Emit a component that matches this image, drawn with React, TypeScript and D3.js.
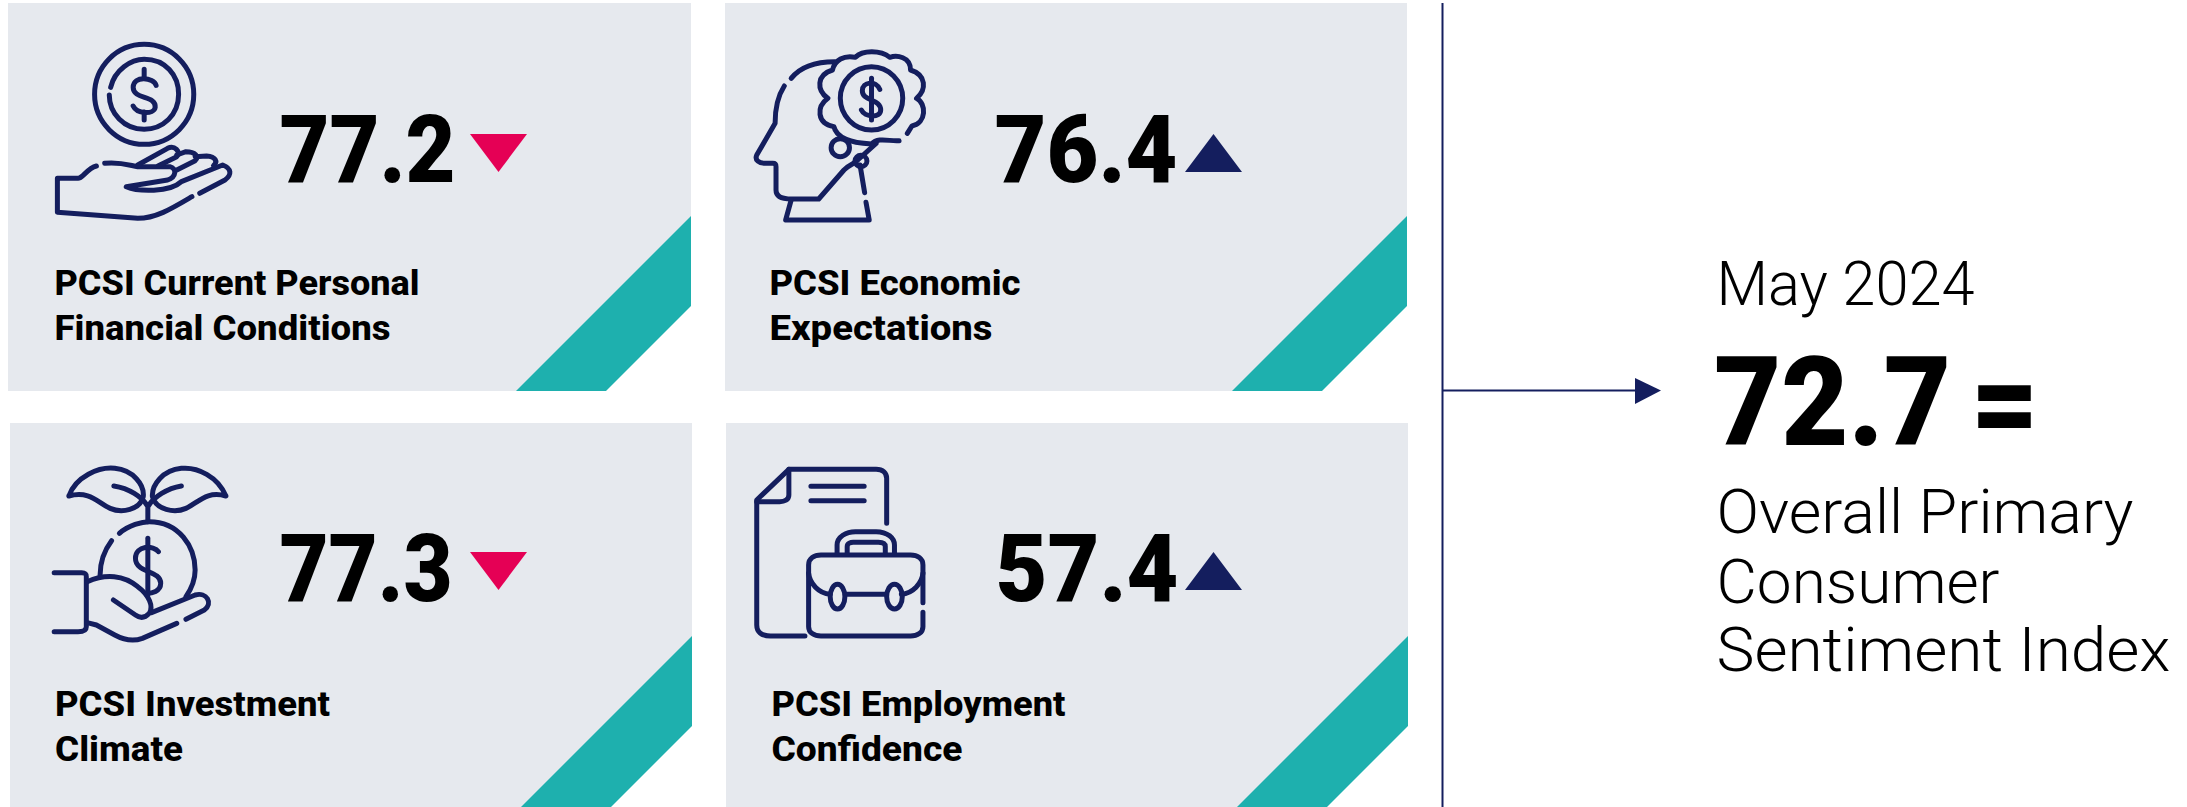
import { useRef, useEffect } from 'react';
import * as d3 from 'd3';

const WIDTH = 2187;
const HEIGHT = 807;
const NAVY = '#141e5e';
const TEAL = '#1eb0ae';
const PINK = '#e50055';
const CARD = '#e6e9ee';

// values
const cardValues = [77.2, 76.4, 77.3, 57.4];
const cardTrends = ['down', 'up', 'down', 'up'];
const cardLabels = [
  ['PCSI Current Personal', 'Financial Conditions'],
  ['PCSI Economic', 'Expectations'],
  ['PCSI Investment', 'Climate'],
  ['PCSI Employment', 'Confidence'],
];
const overallValue = 72.7;
const overallDate = 'May 2024';
const overallLabel = ['Overall Primary', 'Consumer', 'Sentiment Index'];

// card placement and fitted text widths
const cardLeft = [8, 725, 10, 726];
const cardRight = [691, 1407, 692, 1408];
const cardTop = [3, 3, 423, 423];
const cardBottom = [391, 391, 807, 807];
const valueLeft = [279.5, 994.5, 279.5, 995.5];
const valueWidth = [176, 183, 173, 183];
const triLeft = [470, 1185, 470, 1185];
const labelLeft = [54.5, 769.5, 55, 771.5];
const labelWidth = [[365, 336], [251, 223], [275, 128], [294, 191]];

const ICON_ORIGIN = [[0, 0], [720, 0], [0, 410], [720, 410]];
const icons = [
  [
    'M206,283 A108,150 0 1 1 422,283 A108,150 0 1 1 206,283',
    'M241,262 C250,210 285,178 314,178 C360,178 389,225 389,283 C389,345 355,388 314,388 C270,388 238,340 238,285',
    'M314,208 L314,230 M314,336 L314,360',
    'M340,256 C335,232 290,225 290,262 C290,300 340,285 338,322 C335,345 298,342 290,318',
    'M210,498 C190,505 180,535 170,535 L125,535 L125,637 L300,655 C340,655 375,625 418,590',
    'M435,580 L490,540 C505,525 505,505 485,495 L395,545 C370,578 300,575 275,560 L365,540 C385,530 385,505 370,500 L300,500 C280,495 260,485 228,490',
    'M300,495 L365,445 C380,435 395,455 385,470 L345,497',
    'M385,465 L405,455 C425,455 435,470 425,482 L385,510',
    'M425,470 L450,468 C470,470 475,485 465,497',
  ],
  [
    'M155,235 C175,200 210,185 250,185',
    'M140,258 C125,290 120,330 120,370 L80,465 C75,480 85,490 100,490 L115,490 C122,490 122,495 122,500 L122,570 C122,590 135,597 155,597 L215,597 L270,510 C285,490 295,490 300,480 L340,430',
    'M155,600 L143,660 L325,660 L318,607',
    'M315,578 L305,495',
    'M242,443 A20,27 0 1 1 282,443 A20,27 0 1 1 242,443',
    'M294,483 A13,17 0 1 1 320,483 A13,17 0 1 1 294,483',
    'M408,400 L418,378 C450,370 450,310 428,295 C450,270 450,225 415,210 C415,170 385,165 370,172 C350,150 310,150 295,172 C270,165 250,180 245,210 C210,225 210,270 235,295 C210,320 210,370 248,380 C255,420 300,430 330,432 C345,410 370,425 390,422',
    'M262,295 A68,95 0 1 1 398,295 A68,95 0 1 1 262,295',
    'M330,235 L330,360',
    'M348,268 C340,240 310,245 310,272 C310,305 350,295 350,330 C350,355 315,352 308,330',
  ],
  [
    'M150,258 C165,200 215,170 250,175 C290,180 315,225 312,260 C305,300 265,310 240,295 C215,280 195,240 150,258',
    'M492,258 C475,200 430,170 395,175 C355,180 330,225 332,260 C340,300 380,310 405,295 C430,280 450,240 492,258',
    'M322,335 L322,290 M248,228 C280,235 310,260 322,290 M395,228 C365,235 335,260 322,290',
    'M260,370 C280,345 310,335 325,335 C390,335 425,410 425,480 C425,510 415,540 405,560',
    'M243,392 C225,425 218,460 218,495',
    'M322,385 L322,555',
    'M345,425 C335,405 295,405 295,445 C295,490 350,480 350,520 C350,545 330,550 320,550',
    'M118,488 L178,488 C188,488 188,495 188,500 L188,650 C188,662 180,665 170,665 L118,665',
    'M190,515 C230,490 270,495 300,530 C325,555 335,590 325,610 C315,625 305,625 295,615 L247,570',
    'M330,608 L425,555 C450,545 465,580 445,600 L405,628',
    'M385,640 L310,685 C290,695 270,690 250,675 L210,645 L190,638',
  ],
  [
    'M185,678 L110,678 C90,678 80,665 80,645 L80,270 L150,178 L340,178 C355,178 363,190 363,205 L363,340',
    'M150,178 L150,255 C150,270 140,275 130,275 L80,275',
    'M198,229 L314,229 M198,272 L314,272',
    'M442,578 L442,465 C442,445 430,435 415,435 L220,435 C205,435 193,445 193,465 L193,650 C193,668 205,678 220,678 L415,678 C430,678 442,668 442,650 L442,607',
    'M193,490 C195,520 215,550 240,553 M273,553 L362,553 M395,553 C420,550 440,520 442,490',
    'M240,560 A16,37 0 1 1 272,560 A16,37 0 1 1 240,560',
    'M363,560 A17,37 0 1 1 397,560 A17,37 0 1 1 363,560',
    'M255,432 L255,405 C255,380 275,365 295,365 L340,365 C365,365 380,385 380,405 L380,432',
    'M277,432 L277,410 C277,400 285,397 290,397 L345,397 C355,397 360,402 360,410 L360,432',
  ],
];

const line = d3.line();

function fitText(g, str, x, y, w, size, weight, family = 'Roboto') {
  g.append('text')
    .attr('x', x).attr('y', y)
    .attr('font-family', family)
    .attr('font-size', size)
    .attr('font-weight', weight)
    .attr('fill', '#000')
    .attr('textLength', w)
    .attr('lengthAdjust', 'spacingAndGlyphs')
    .text(str);
}

export default function App() {
  const svgRef = useRef(null);

  useEffect(() => {
    const svg = d3.select(svgRef.current);
    svg.selectAll('*').remove();
    const fmt = d3.format('.1f');

    cardValues.forEach((value, i) => {
      const g = svg.append('g');
      const [x0, x1, y0, y1] = [cardLeft[i], cardRight[i], cardTop[i], cardBottom[i]];
      g.append('rect')
        .attr('x', x0).attr('y', y0)
        .attr('width', x1 - x0).attr('height', y1 - y0)
        .attr('fill', CARD);

      // teal band and white cut corner run at 45 degrees
      const bandTop = y0 + 213;
      const bandEnd = y0 + 302;
      g.append('path')
        .attr('d', line([[x1, bandTop], [x1, y1], [x1 - (y1 - bandTop), y1]]) + 'Z')
        .attr('fill', TEAL);
      g.append('path')
        .attr('d', line([[x1 + 1, bandEnd], [x1 + 1, y1 + 1], [x1 - (y1 - bandEnd), y1 + 1]]) + 'Z')
        .attr('fill', '#fff');

      // icon
      const icon = g.append('g')
        .attr('transform', `translate(${ICON_ORIGIN[i][0]},${ICON_ORIGIN[i][1]}) scale(${1 / 2.178},${1 / 3})`);
      icons[i].forEach(d => {
        icon.append('path')
          .attr('d', d)
          .attr('fill', 'none')
          .attr('stroke', NAVY)
          .attr('stroke-width', 5)
          .attr('stroke-linecap', 'round')
          .attr('stroke-linejoin', 'round')
          .attr('vector-effect', 'non-scaling-stroke');
      });

      // value and trend triangle
      const base = y0 + 179 - (i > 1 ? 1 : 0);
      fitText(g, fmt(value), valueLeft[i], base, valueWidth[i], 94, 900);
      const tl = triLeft[i];
      const tTop = y0 + 131 - (i > 1 ? 2 : 0);
      const tBot = tTop + 38;
      const pts = cardTrends[i] === 'down'
        ? [[tl, tTop], [tl + 57, tTop], [tl + 28.5, tBot]]
        : [[tl, tBot], [tl + 57, tBot], [tl + 28.5, tTop]];
      g.append('path')
        .attr('d', line(pts) + 'Z')
        .attr('fill', cardTrends[i] === 'down' ? PINK : NAVY);

      // label
      cardLabels[i].forEach((str, j) => {
        fitText(g, str, labelLeft[i], y0 + 292 - (i > 1 ? -1 : 0) + j * 45, labelWidth[i][j], 35, 800);
      });
    });

    // divider and arrow
    svg.append('line')
      .attr('x1', 1442.5).attr('x2', 1442.5).attr('y1', 3).attr('y2', HEIGHT)
      .attr('stroke', NAVY).attr('stroke-width', 2);
    svg.append('line')
      .attr('x1', 1443).attr('x2', 1640).attr('y1', 390.5).attr('y2', 390.5)
      .attr('stroke', NAVY).attr('stroke-width', 2);
    svg.append('path')
      .attr('d', line([[1635, 378], [1661, 390.5], [1635, 404]]) + 'Z')
      .attr('fill', NAVY);

    // overall block
    fitText(svg, overallDate, 1716.5, 305, 258, 62, 300);
    fitText(svg, fmt(overallValue), 1714, 445, 237, 124, 900);
    fitText(svg, '=', 1971, 445, 68, 124, 900);
    const widths = [417, 283, 454];
    const bases = [533, 603, 671];
    overallLabel.forEach((str, j) => {
      fitText(svg, str, 1716.5, bases[j], widths[j], 62, 300);
    });
  }, []);

  return (
    <svg
      ref={svgRef}
      width={WIDTH}
      height={HEIGHT}
      style={{ position: 'absolute', left: 0, top: 0, background: '#fff' }}
    />
  );
}
